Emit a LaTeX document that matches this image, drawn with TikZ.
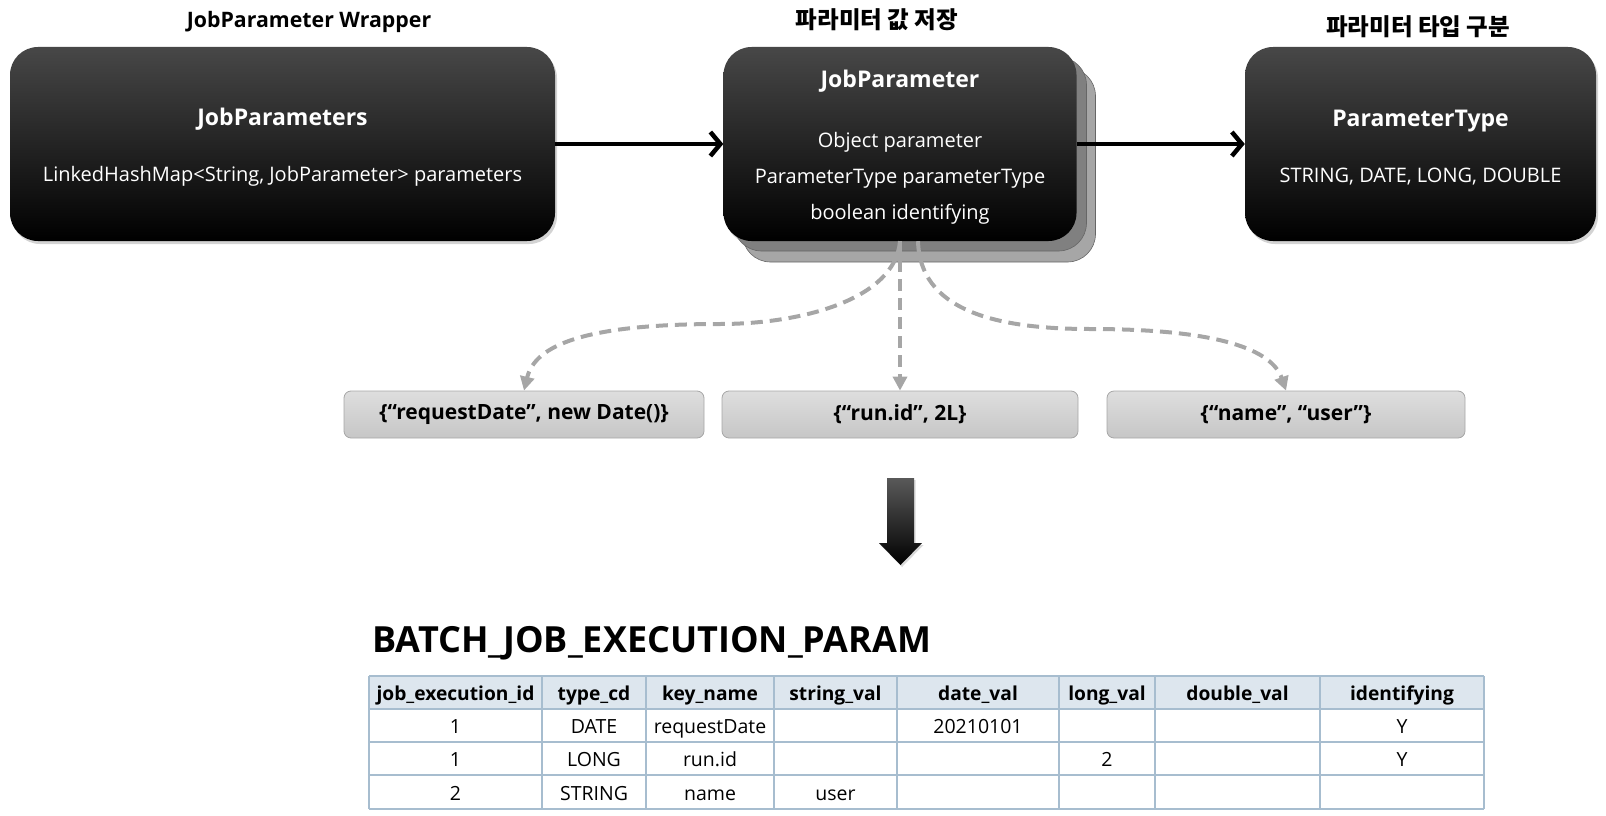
\documentclass[tikz,border=0pt]{standalone}
\usepackage{fontspec}
\setmainfont{Open Sans}
\newfontfamily\kr{Noto Sans CJK KR}
\usetikzlibrary{arrows.meta,positioning,calc,shadows}

\definecolor{dashgray}{HTML}{A6A6A6}
\definecolor{gridblue}{HTML}{A7BDCF}
\definecolor{headfill}{HTML}{DDE6EE}
\definecolor{valtop}{HTML}{DEDEDE}
\definecolor{valbot}{HTML}{C6C6C6}

\newcommand{\boxtitle}[1]{{\bfseries\fontsize{23}{23}\selectfont\rule{0pt}{24pt}#1}}

\begin{document}
\begin{tikzpicture}[x=1pt,y=-1pt,
  box/.style={rounded corners=28pt, minimum height=194pt, top color=black!72, middle color=black, bottom color=black,
    text=white, align=center, font=\fontsize{20}{36}\selectfont,
    drop shadow={opacity=0.35, shadow xshift=2pt, shadow yshift=-3pt}},
  layer/.style={rounded corners=28pt, minimum width=353pt, minimum height=194pt, draw=black!60, line width=0.6pt},
  valbox/.style={rounded corners=7pt, minimum height=47pt, draw=black!35, line width=0.8pt, top color=valtop, bottom color=valbot,
    font=\bfseries\fontsize{21}{21}\selectfont},
  flow/.style={line width=4.5pt, -{Straight Barb[length=10pt,width=24pt]}},
  pick/.style={draw=dashgray, line width=4pt, dash pattern=on 12pt off 7pt, -{Triangle[length=14pt,width=14pt]}},
  grid/.style={draw=gridblue, line width=1.2pt},
  head/.style={font=\bfseries\fontsize{19.2}{19.2}\selectfont, text height=14pt, text depth=5pt},
  cell/.style={font=\fontsize{19.5}{19.5}\selectfont, text height=14pt, text depth=5pt}]
\useasboundingbox (0,0) rectangle (1606,816);

% titles
\node[font=\bfseries\fontsize{21.3}{21.3}\selectfont] (t1) at (309,22) {JobParameter Wrapper};
\node[font=\kr\bfseries\fontsize{23.5}{23.5}\selectfont] (t2) at (877,20) {파라미터 값 저장};
\node[font=\kr\bfseries\fontsize{23.5}{23.5}\selectfont] (t3) at (1418,27) {파라미터 타입 구분};

% boxes
\node[box, minimum width=545pt] (jps) at (282.5,144) {\boxtitle{JobParameters}\\[20pt] LinkedHashMap<String, JobParameter> parameters};
\node[layer, fill=gray!70] (jpl2) at (919,165) {};
\node[layer, fill=gray] (jpl1) at (910,154) {};
\node[box, minimum width=353pt] (jp) at (900,144) {\boxtitle{JobParameter}\\[24pt] Object parameter\\ ParameterType parameterType\\ boolean identifying};
\node[box, minimum width=351pt] (pt) at (1420.5,144) {\boxtitle{ParameterType}\\[20pt] STRING, DATE, LONG, DOUBLE};

\draw[flow] (jps) -- (jp);
\draw[flow] (jp) -- (pt);

% values
\node[valbox, minimum width=360pt] (v1) at (524,414.5) {\{“requestDate”, new Date()\}};
\node[valbox, minimum width=356pt] (v2) at (900,414.5) {\{“run.id”, 2L\}};
\node[valbox, minimum width=358pt] (v3) at (1286,414.5) {\{“name”, “user”\}};

\draw[pick] (jp.south) .. controls (895,300) and (800,324) .. (720,324) .. controls (585,324) and (535,345) .. (v1.north);
\draw[pick] (jp.south) -- (v2.north);
\draw[pick] ($(jp.south)+(18,0)$) .. controls (920,308) and (990,329) .. (1090,329) .. controls (1220,329) and (1272,350) .. (v3.north);

% big arrow
\path[top color=black!65, middle color=black, bottom color=black, drop shadow={opacity=0.3, shadow xshift=1.5pt, shadow yshift=-2pt}]
  (887,478) -- (914,478) -- (914,543) -- (922,543) -- (900.5,565) -- (879,543) -- (887,543) -- cycle;

% table
\node[anchor=west, font=\bfseries\fontsize{36}{36}\selectfont, inner sep=0pt] (tname) at (372,643) {BATCH\_JOB\_EXECUTION\_PARAM};
\fill[headfill] (369,676) rectangle (1484,709);
\foreach \y in {676,709,742,775,809}
  \draw[grid] (369,\y) -- (1484,\y);
\foreach \x in {369,542,646,774,897,1059,1155,1320,1484}
  \draw[grid] (\x,676) -- (\x,809);

\foreach \x/\t [count=\i] in {455.5/job\_execution\_id, 594/type\_cd, 710/key\_name, 835.5/string\_val,
    978/date\_val, 1107/long\_val, 1237.5/double\_val, 1402/identifying}
  \node[head] (h\i) at (\x,696) {\t};
\foreach \x/\t [count=\i] in {455.5/1, 594/DATE, 710/requestDate, 978/20210101, 1402/Y}
  \node[cell] (ra\i) at (\x,729) {\t};
\foreach \x/\t [count=\i] in {455.5/1, 594/LONG, 710/run.id, 1107/2, 1402/Y}
  \node[cell] (rb\i) at (\x,762) {\t};
\foreach \x/\t [count=\i] in {455.5/2, 594/STRING, 710/name, 835.5/user}
  \node[cell] (rc\i) at (\x,795.5) {\t};
\end{tikzpicture}
\end{document}
